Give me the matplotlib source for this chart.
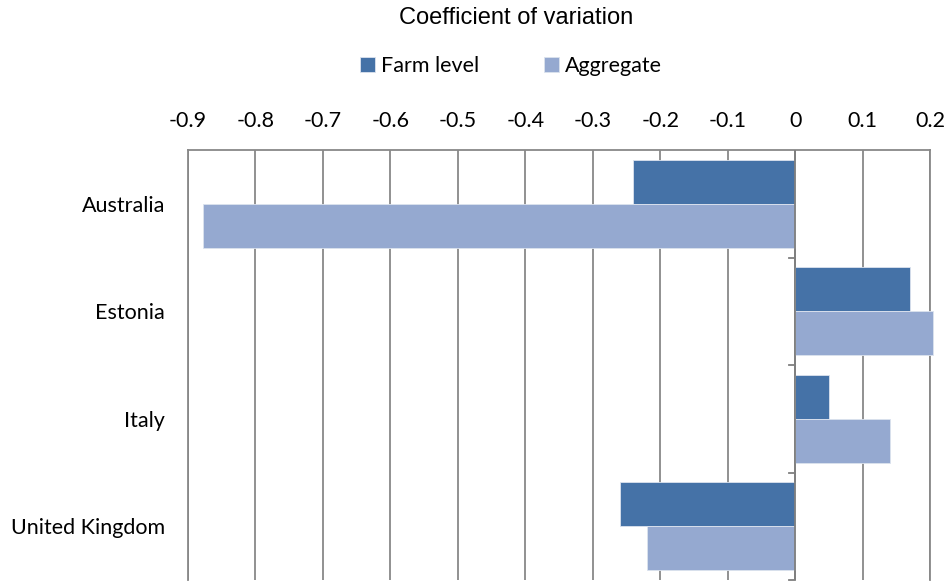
import matplotlib
matplotlib.use("Agg")
import matplotlib.pyplot as plt
import numpy as np

countries = ["Australia", "Estonia", "Italy", "United Kingdom"]
farm_level = [-0.24, 0.17, 0.05, -0.26]
aggregate = [-0.878, 0.205, 0.14, -0.22]
xticks = [-0.9, -0.8, -0.7, -0.6, -0.5, -0.4, -0.3, -0.2, -0.1, 0, 0.1, 0.2]
xtick_labels = ["-0.9", "-0.8", "-0.7", "-0.6", "-0.5", "-0.4", "-0.3", "-0.2", "-0.1", "0", "0.1", "0.2"]

farm_color = "#4572A7"
agg_color = "#95A9D0"
grid_color = "#888888"
label_font = "Lato"
label_size = 15.5

fig = plt.figure(figsize=(9.48, 5.81), dpi=100)
ax = fig.add_axes([188 / 948, 1 - 580 / 581, (930 - 188) / 948, (580 - 150) / 581])

y = np.arange(len(countries))
h = 0.41
ax.barh(y - h / 2, farm_level, height=h, color=farm_color, edgecolor="#DCE3EE",
        linewidth=0.6, label="Farm level", zorder=3, clip_on=False)
ax.barh(y + h / 2, aggregate, height=h, color=agg_color, edgecolor="#DCE3EE",
        linewidth=0.6, label="Aggregate", zorder=3, clip_on=False)

ax.set_xlim(-0.9, 0.2)
ax.set_ylim(len(countries) - 0.5, -0.5)

# x axis on top, vertical gridlines
ax.xaxis.tick_top()
ax.set_xticks(xticks)
ax.set_xticklabels(xtick_labels, fontfamily=label_font, fontsize=label_size)
ax.tick_params(axis="x", length=0, pad=14)
ax.grid(axis="x", color=grid_color, linewidth=1.3, zorder=0)

ax.set_yticks(y)
ax.set_yticklabels(countries, fontfamily=label_font, fontsize=label_size)
ax.tick_params(axis="y", length=0, pad=16.5)

for side in ["top", "left", "right"]:
    ax.spines[side].set_color(grid_color)
    ax.spines[side].set_linewidth(1.3)
ax.spines["bottom"].set_visible(False)

# category axis drawn at zero with ticks between groups
ax.axvline(0, color="#7F7F7F", linewidth=1.3, zorder=4)
for b in np.arange(0.5, len(countries), 1.0):
    ax.plot([-0.009, 0], [b, b], color="#7F7F7F", linewidth=1.3, zorder=4, clip_on=False)

fig.text(516 / 948, 1 - 18 / 581, "Coefficient of variation", ha="center", va="center",
         fontfamily="Liberation Sans", fontsize=17)

leg = fig.legend(loc="center", bbox_to_anchor=(511 / 948, 1 - 66 / 581), ncol=2, frameon=False,
                 prop={"family": label_font, "size": label_size}, handlelength=0.7, handleheight=0.7,
                 handletextpad=0.3, columnspacing=3.0)

fig.savefig("out.png", dpi=100)
